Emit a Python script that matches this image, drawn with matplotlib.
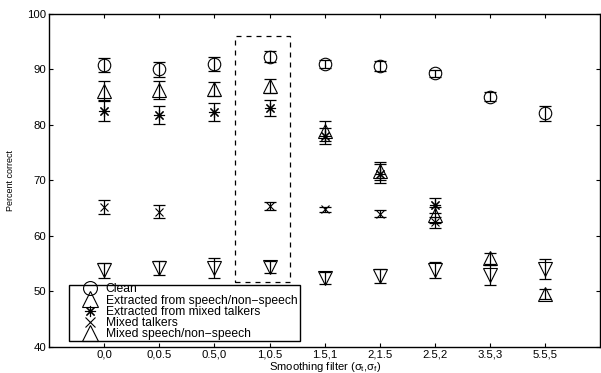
import numpy as np
import matplotlib
matplotlib.use("Agg")
import matplotlib.pyplot as plt
from matplotlib.lines import Line2D
from matplotlib.patches import Rectangle

plt.rcParams['font.family'] = ['Liberation Sans', 'DejaVu Sans']
plt.rcParams['mathtext.fontset'] = 'custom'
plt.rcParams['mathtext.rm'] = 'Liberation Sans'
plt.rcParams['mathtext.it'] = 'Liberation Sans'

filters = ['0,0', '0,0.5', '0.5,0', '1,0.5', '1.5,1', '2,1.5', '2.5,2', '3.5,3', '5.5,5']

clean = [90.8, 90.0, 91.0, 92.3, 91.0, 90.7, 89.3, 85.1, 82.1]
clean_err = [1.3, 1.3, 1.2, 1.0, 0.7, 0.9, 0.6, 0.8, 1.4]

ext_sns = [86.2, 86.3, 86.5, 87.0, 79.0, 71.7, 63.8, 56.0, 49.5]
ext_sns_err = [1.8, 1.6, 1.3, 1.3, 1.8, 1.6, 1.5, 1.0, 0.9]

ext_mix = [82.6, 81.8, 82.4, 83.1, 78.0, 71.2, 65.5, np.nan, np.nan]
ext_mix_err = [1.9, 1.6, 1.6, 1.4, 1.5, 1.7, 1.3, np.nan, np.nan]

mix_talk = [65.2, 64.4, np.nan, 65.4, 64.8, 64.0, 62.5, np.nan, np.nan]
mix_talk_err = [1.2, 1.1, np.nan, 0.7, 0.5, 0.6, 1.0, np.nan, np.nan]

mix_sns = [53.8, 54.2, 54.3, 54.4, 52.5, 52.8, 53.9, 53.0, 54.0]
mix_sns_err = [1.3, 1.3, 1.8, 1.1, 1.1, 1.3, 1.5, 1.8, 1.8]

labels = ['Clean', 'Extracted from speech/non\u2212speech', 'Extracted from mixed talkers',
          'Mixed talkers', 'Mixed speech/non\u2212speech']

asterisk = (8, 2, 0)

fig = plt.figure(figsize=(6.01, 3.73), dpi=100)
ax = fig.add_axes([0.0815, 0.0697, 0.9175, 0.8928])

x = np.arange(1, len(filters) + 1)
series = [(clean, clean_err, 'o', 9), (ext_sns, ext_sns_err, '^', 10),
          (ext_mix, ext_mix_err, asterisk, 8), (mix_talk, mix_talk_err, 'x', 6),
          (mix_sns, mix_sns_err, 'v', 10)]
for vals, err, m, ms in series:
    ax.errorbar(x, vals, yerr=err, fmt='none', ecolor='black', elinewidth=0.9,
                capsize=4, capthick=0.9)
    ax.plot(x, vals, ls='none', marker=m, ms=ms, mfc='none', mec='black', mew=0.8)

# dashed box around the 1,0.5 condition
ax.add_patch(Rectangle((3.38, 51.7), 0.99, 44.3, fill=False, ls=(0, (4, 4)), lw=0.9, ec='black'))

ax.set_xlim(0, 10)
ax.set_ylim(40, 100)
ax.set_xticks(x)
ax.set_xticklabels(filters)
ax.set_yticks(np.arange(40, 101, 10))
ax.tick_params(direction='in', top=True, right=True, labelsize=8.2, length=3, pad=2)
ax.tick_params(axis='x', pad=1.5)
for s in ax.spines.values():
    s.set_linewidth(1.0)
ax.set_ylabel('Percent correct', fontsize=6.5, labelpad=9)
ax.set_xlabel(r'Smoothing filter ($\sigma_t$,$\sigma_f$)', fontsize=8.1)
ax.xaxis.set_label_coords(0.5, -0.039, transform=ax.transAxes)
ax.xaxis.label.set_va('top')

# legend frame drawn separately, MATLAB style
ax.add_patch(Rectangle((0.0363, 0.018), 0.419, 0.168, transform=ax.transAxes,
                       fill=False, ec='black', lw=1.0, zorder=5))
handles = [Line2D([], [], ls='none', marker=m, ms=ms, mfc='none', mec='black', mew=0.8)
           for m, ms in [('o', 10), ('^', 11), (asterisk, 8), ('x', 7), ('^', 11)]]
leg = ax.legend(handles, labels, loc='lower left', bbox_to_anchor=(0.0577, 0.02),
                fontsize=8.7, frameon=False, borderpad=0, labelspacing=-0.06,
                handletextpad=0.45, handlelength=1.6, borderaxespad=0)

fig.savefig('out.png', dpi=100)
